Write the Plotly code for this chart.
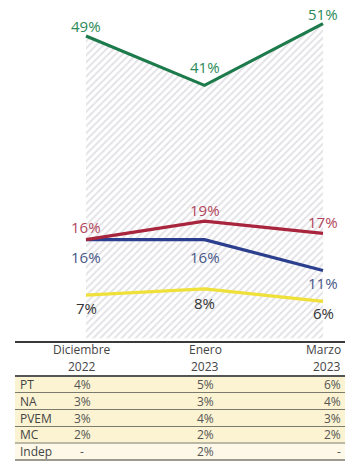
import plotly.graph_objects as go

# ---- data ----
periods = ["Diciembre 2022", "Enero 2023", "Marzo 2023"]
green_vals = [49, 41, 51]
red_vals = [16, 19, 17]
blue_vals = [16, 16, 11]
yellow_vals = [7, 8, 6]

hdr_top = ["Diciembre", "Enero", "Marzo"]
hdr_bot = ["2022", "2023", "2023"]
tbl_parties = ["PT", "NA", "PVEM", "MC", "Indep"]
tbl_dec = ["4%", "3%", "3%", "2%", "-"]
tbl_ene = ["5%", "3%", "4%", "2%", "2%"]
tbl_mar = ["6%", "4%", "3%", "2%", "-"]

W, H = 351, 465
FONT = "Open Sans"

def px(x):
    return x / W

def py(y):
    return 1 - y / H

xi = [0, 1, 2]
x0px, step = 86, 118.5
scale = 6.17
ytop_val = 49 + 36 / scale
zero_px = 36 + 49 * scale
ybot_val = -(H - zero_px) / scale

fig = go.Figure()

# hatched area under green line
fig.add_trace(go.Scatter(
    x=xi, y=green_vals, mode="lines",
    line=dict(color="#1c7a4b", width=3.2),
    fill="tozeroy", fillcolor="rgba(0,0,0,0)",
    fillpattern=dict(shape="/", fgcolor="#c6c3cc", bgcolor="white", size=5, solidity=0.38),
    hoverinfo="skip", showlegend=False,
))
fig.add_trace(go.Scatter(x=xi, y=yellow_vals, mode="lines",
                         line=dict(color="#efe03a", width=3.2), showlegend=False))
fig.add_trace(go.Scatter(x=xi, y=blue_vals, mode="lines",
                         line=dict(color="#2b3f8e", width=3.2), showlegend=False))
fig.add_trace(go.Scatter(x=xi, y=red_vals, mode="lines",
                         line=dict(color="#a8253d", width=3.2), showlegend=False))

ann = []
def add_labels(vals, shifts, color):
    for i, v in enumerate(vals):
        ann.append(dict(x=xi[i], y=v, xref="x", yref="y", text=f"{v}%",
                        showarrow=False, yshift=shifts[i],
                        font=dict(family=FONT, size=15, color=color)))

add_labels(green_vals, [10, 18, 10], "#2a8a58")
add_labels(red_vals, [13, 11, 11], "#b2475b")
add_labels(blue_vals, [-17, -17, -13], "#4a5889")
add_labels(yellow_vals, [-13, -14, -12], "#333333")

shapes = []
# table
L, R = 15, 345
row_edges = [376, 392.5, 409.5, 426.5, 443, 460]
for r in range(len(tbl_parties)):
    shapes.append(dict(type="rect", xref="paper", yref="paper",
                       x0=px(L), x1=px(R), y0=py(row_edges[r + 1]), y1=py(row_edges[r]),
                       fillcolor="#fbf3d2" if r < 4 else "#fdf8e8", line=dict(width=0), layer="above"))
def hline(y, w, c):
    shapes.append(dict(type="line", xref="paper", yref="paper", x0=px(L), x1=px(R),
                       y0=py(y), y1=py(y), line=dict(color=c, width=w), layer="above"))
hline(342, 2, "#3a3a3a")
hline(376, 2, "#555555")
for y in row_edges[1:-1]:
    hline(y, 1, "#7a7a6e")
hline(460, 1.5, "#7a7a6e")

tcol = "#444444"
col_x = [82, 205, 343]
col_anchor = ["center", "center", "right"]
for j in range(3):
    for txt, yy in ((hdr_top[j], 349), (hdr_bot[j], 366)):
        ann.append(dict(x=px(col_x[j]), y=py(yy), xref="paper", yref="paper", text=txt,
                        showarrow=False, xanchor=col_anchor[j], yanchor="middle",
                        font=dict(family=FONT, size=12, color=tcol)))
for r, party in enumerate(tbl_parties):
    yc = (row_edges[r] + row_edges[r + 1]) / 2
    ann.append(dict(x=px(18), y=py(yc), xref="paper", yref="paper", text=party,
                    showarrow=False, xanchor="left", yanchor="middle",
                    font=dict(family=FONT, size=12, color=tcol)))
    for j, col in enumerate((tbl_dec, tbl_ene, tbl_mar)):
        ann.append(dict(x=px(col_x[j]), y=py(yc), xref="paper", yref="paper", text=col[r],
                        showarrow=False, xanchor=col_anchor[j], yanchor="middle",
                        font=dict(family=FONT, size=12, color="#555555")))

fig.update_layout(
    width=W, height=H, margin=dict(l=0, r=0, t=0, b=0),
    paper_bgcolor="white", plot_bgcolor="white",
    xaxis=dict(range=[-x0px / step, (W - x0px) / step], visible=False, fixedrange=True),
    yaxis=dict(range=[ybot_val, ytop_val], visible=False, fixedrange=True),
    annotations=ann, shapes=shapes, showlegend=False,
)
fig.write_html("out.html", config={"displayModeBar": False},
               post_script="document.body.style.margin='0';document.body.style.overflow='hidden';")
